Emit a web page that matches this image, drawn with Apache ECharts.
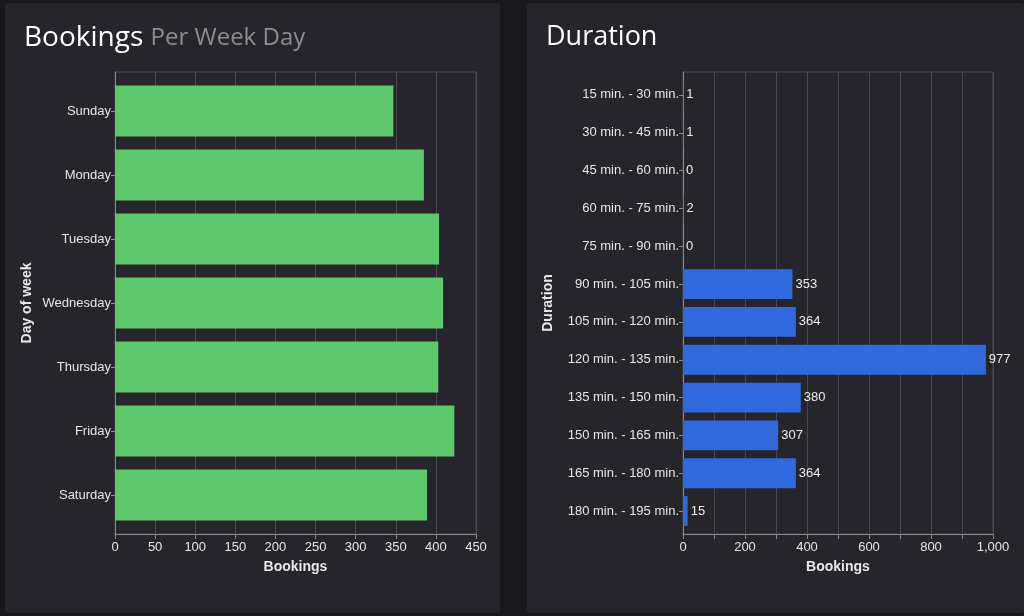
<!DOCTYPE html>
<html><head><meta charset="utf-8">
<script src="https://cdn.jsdelivr.net/npm/echarts@6/dist/echarts.min.js"></script>
<style>
html,body{margin:0;padding:0;width:1024px;height:616px;background:#18171c;overflow:hidden;}
.panel{position:absolute;background:#26252b;border-radius:3px;}
#p1{left:5px;top:3px;width:495px;height:610px;}
#p2{left:527px;top:3px;width:497px;height:610px;}
</style></head>
<body>
<div class="panel" id="p1"></div>
<div class="panel" id="p2"></div>
<script>
const days = ['Sunday','Monday','Tuesday','Wednesday','Thursday','Friday','Saturday'];
const dayBookings = [347, 385, 404, 409, 403, 423, 389];
const durations = ['15 min. - 30 min.','30 min. - 45 min.','45 min. - 60 min.','60 min. - 75 min.','75 min. - 90 min.','90 min. - 105 min.','105 min. - 120 min.','120 min. - 135 min.','135 min. - 150 min.','150 min. - 165 min.','165 min. - 180 min.','180 min. - 195 min.'];
const durationBookings = [1, 1, 0, 2, 0, 353, 364, 977, 380, 307, 364, 15];

const FONT = 'Liberation Sans, Arial, sans-serif';
const TFONT = 'Open Sans, sans-serif';
const gridLine = '#494950';
const tickCol = '#8a8a90';
const labelCol = '#e6e6e6';

function buildOption(cfg){
  const outer = {left:cfg.left, right:cfg.right, top:69, bottom:79};
  const inner = {left:cfg.left, right:cfg.right, top:69 + cfg.pad, bottom:79 + cfg.pad};
  return {
    animation:false,
    title:cfg.title,
    grid:[
      Object.assign({show:true, borderColor:gridLine, borderWidth:1}, outer),
      inner
    ],
    xAxis:[{
      gridIndex:0, type:'value', min:0, max:cfg.max, interval:cfg.interval,
      name:'Bookings', nameLocation:'middle', nameGap:26,
      nameTextStyle:{color:'#e8e8e8', fontWeight:'bold', fontSize:14, fontFamily:FONT},
      axisLine:{show:true, lineStyle:{color:tickCol}},
      axisTick:{show:true, length:5, lineStyle:{color:tickCol}},
      axisLabel:{color:labelCol, fontSize:13, fontFamily:FONT, margin:7, formatter:cfg.fmt},
      splitLine:{show:true, lineStyle:{color:gridLine, width:1}}
    },{
      gridIndex:1, type:'value', min:0, max:cfg.max, show:false
    }],
    yAxis:[{
      gridIndex:0, type:'value', min:0, max:1,
      axisLine:{show:true, lineStyle:{color:tickCol}},
      axisTick:{show:false}, axisLabel:{show:false}, splitLine:{show:false},
      name:cfg.yName, nameLocation:'middle', nameGap:cfg.nameGap, nameRotate:90,
      nameTextStyle:{color:'#e8e8e8', fontWeight:'bold', fontSize:14, fontFamily:FONT}
    },{
      gridIndex:1, type:'category', data:cfg.cats, inverse:true,
      axisLine:{show:false},
      axisTick:{show:true, alignWithLabel:true, length:4, lineStyle:{color:tickCol}},
      axisLabel:{color:labelCol, fontSize:13, fontFamily:FONT, margin:4},
      splitLine:{show:false}
    }],
    series:[{
      type:'bar', xAxisIndex:1, yAxisIndex:1, data:cfg.values, barCategoryGap:cfg.gap,
      itemStyle:{color:cfg.color},
      label:cfg.label || {show:false}
    }]
  };
}

const c1 = echarts.init(document.getElementById('p1'));
c1.setOption(buildOption({
  title:{
    left:14, top:16,
    text:'{a|Bookings }{b|Per Week Day}',
    textStyle:{rich:{
      a:{fontSize:28, color:'#ffffff', fontWeight:'normal', fontFamily:TFONT},
      b:{fontSize:24, color:'#8c8c92', fontWeight:'normal', fontFamily:TFONT}
    }}
  },
  left:110, right:24, pad:7, max:450, interval:50, fmt:v => String(v),
  cats:days, values:dayBookings, gap:'20%', color:'#5dc86c',
  yName:'Day of week', nameGap:81
}));

const c2 = echarts.init(document.getElementById('p2'));
c2.setOption(buildOption({
  title:{
    left:14, top:16, text:'Duration',
    textStyle:{fontSize:27, color:'#ffffff', fontWeight:'normal', fontFamily:TFONT}
  },
  left:156, right:31, pad:4, max:1000, interval:100,
  fmt:v => (v % 200 === 0 ? v.toLocaleString('en-US') : ''),
  cats:durations, values:durationBookings, gap:'21%', color:'#2f69dc',
  yName:'Duration', nameGap:128,
  label:{show:true, position:'right', distance:3, color:'#ececec', fontSize:13, fontFamily:FONT}
}));
</script>
</body></html>
